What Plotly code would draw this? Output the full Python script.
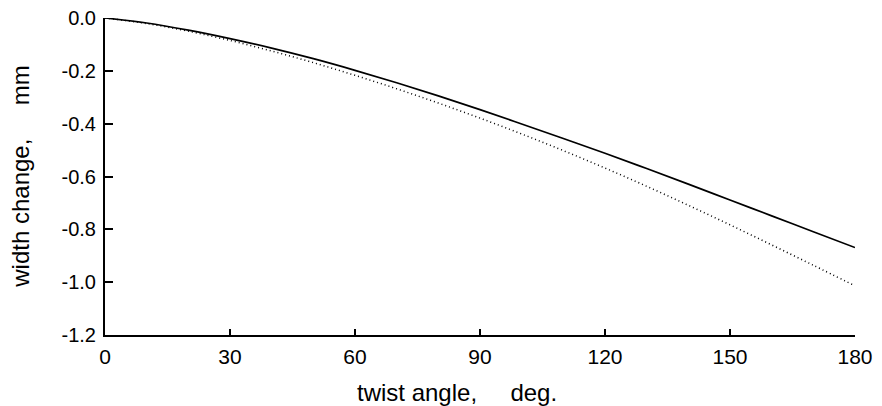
import plotly.graph_objects as go

angle = [0, 10, 20, 30, 40, 50, 60, 70, 80, 90, 100, 110, 120, 130, 140, 150, 160, 170, 180]
solid_change = [0, -0.019, -0.046, -0.078, -0.114, -0.154, -0.198, -0.245, -0.295, -0.347,
                -0.401, -0.456, -0.512, -0.570, -0.629, -0.689, -0.749, -0.809, -0.869]
dotted_change = [0, -0.021, -0.050, -0.085, -0.125, -0.169, -0.217, -0.268, -0.322, -0.379,
                 -0.439, -0.502, -0.568, -0.637, -0.709, -0.783, -0.859, -0.936, -1.014]
x_ticks = [0, 30, 60, 90, 120, 150, 180]
y_ticks = [0.0, -0.2, -0.4, -0.6, -0.8, -1.0, -1.2]
y_tick_text = ["0.0", "-0.2", "-0.4", "-0.6", "-0.8", "-1.0", "-1.2"]
x_title = "twist angle,     deg."
y_title = "width change,     mm"

fig = go.Figure()
fig.add_trace(go.Scatter(x=angle, y=solid_change, mode="lines",
                         line=dict(color="black", width=1.7, shape="spline"), showlegend=False))
fig.add_trace(go.Scatter(x=angle, y=dotted_change, mode="lines",
                         line=dict(color="black", width=1.5, dash="1px,3px", shape="spline"),
                         showlegend=False))

font = dict(family="Liberation Sans, Arial, sans-serif", size=20, color="black")
fig.update_layout(
    width=874, height=398,
    margin=dict(l=97, r=27, t=10, b=71, autoexpand=False),
    plot_bgcolor="white", paper_bgcolor="white",
    font=font,
    xaxis=dict(range=[0, 180], tickvals=x_ticks, ticks="inside", ticklen=6, tickwidth=1.5,
               tickcolor="black", showline=True, linecolor="black", linewidth=2, showgrid=False,
               zeroline=False, tickfont=dict(size=21), ticklabelstandoff=2,
               ticklabeloverflow="allow", automargin=False),
    yaxis=dict(range=[-1.2, 0], tickvals=y_ticks, ticktext=y_tick_text, ticks="inside", ticklen=8,
               tickwidth=1.5, tickcolor="black", showline=True, linecolor="black", linewidth=2,
               showgrid=False, zeroline=False, tickfont=dict(size=20), ticklabelstandoff=3,
               ticklabeloverflow="allow", automargin=False),
    annotations=[
        dict(text=x_title, xref="paper", yref="paper", x=0.469, y=-0.18, xanchor="center",
             yanchor="middle", showarrow=False, font=dict(size=24)),
        dict(text=y_title, xref="paper", yref="paper", x=-0.113, y=0.5, xanchor="center",
             yanchor="middle", showarrow=False, textangle=-90, font=dict(size=24)),
    ],
)
fig.write_html("out.html")
